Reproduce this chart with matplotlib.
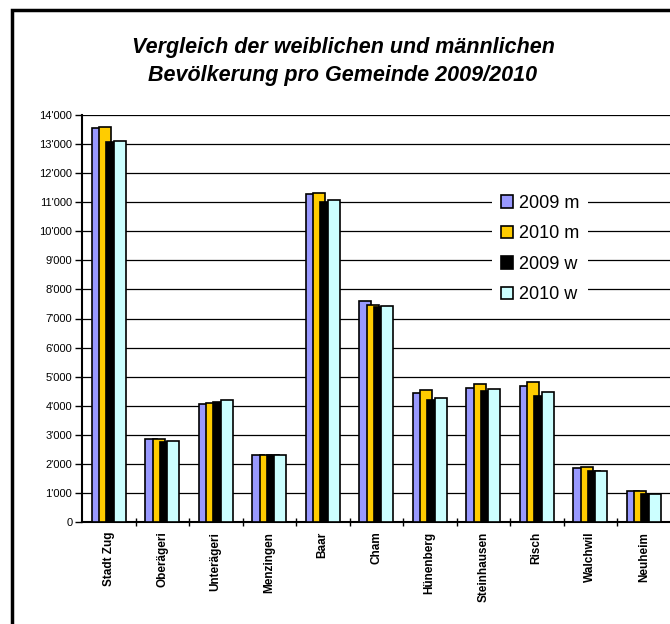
import numpy as np
import matplotlib.pyplot as plt
from matplotlib.patches import Rectangle
from matplotlib.ticker import FuncFormatter, MultipleLocator

plt.rcParams['font.family'] = ['Liberation Sans', 'DejaVu Sans']

# ==================== Data ====================
gemeinden = ['Stadt Zug', 'Oberägeri', 'Unterägeri', 'Menzingen', 'Baar', 'Cham',
             'Hünenberg', 'Steinhausen', 'Risch', 'Walchwil', 'Neuheim']
m_2009 = [13540, 2840, 4060, 2290, 11270, 7610, 4430, 4620, 4680, 1860, 1070]
m_2010 = [13600, 2860, 4090, 2320, 11330, 7460, 4550, 4740, 4830, 1890, 1070]
w_2009 = [13080, 2760, 4130, 2310, 11020, 7390, 4190, 4510, 4330, 1740, 950]
w_2010 = [13110, 2780, 4190, 2310, 11090, 7430, 4270, 4590, 4460, 1740, 950]

series = [('2009 m', m_2009, '#9999ff'),
          ('2010 m', m_2010, '#ffcc00'),
          ('2009 w', w_2009, '#000000'),
          ('2010 w', w_2010, '#ccffff')]

# ==================== Figure ====================
fig = plt.figure(figsize=(6.7, 6.24), dpi=100)

# outer chart border (cut off on the right and bottom)
fig.patches.append(Rectangle((12 / 670, -0.1), 1.2, 1.1 - 10 / 624,
                             transform=fig.transFigure, fill=False,
                             edgecolor='black', linewidth=2.5))

ax = fig.add_axes([82 / 670, 1 - 522 / 624, 588.5 / 670, 407 / 624])

x = np.arange(len(gemeinden))
width = 0.224
step = 0.137
for i, (label, vals, color) in enumerate(series):
    ax.bar(x + (i - 1.5) * step, vals, width=width, color=color,
           edgecolor='black', linewidth=1.2, label=label, zorder=3 + i)

ax.set_xlim(-0.5, len(gemeinden) - 0.5)
ax.set_ylim(0, 14000)
ax.yaxis.set_major_locator(MultipleLocator(1000))
ax.yaxis.set_major_formatter(FuncFormatter(lambda v, p: f'{int(v):,}'.replace(',', "'")))
ax.grid(axis='y', color='black', linewidth=0.9, zorder=0)

ax.set_xticks(x)
ax.set_xticklabels(gemeinden, rotation=90, fontsize=8.5, fontweight='bold', va='top')
ax.set_xticks(np.arange(len(gemeinden)) + 0.5, minor=True)
ax.tick_params(axis='x', which='major', length=0, pad=7)
ax.tick_params(axis='x', which='minor', direction='inout', length=6, width=1)
ax.tick_params(axis='y', direction='out', length=5, width=1, labelsize=8, pad=2)

for s in ['top', 'right']:
    ax.spines[s].set_visible(False)
for s in ['left', 'bottom']:
    ax.spines[s].set_linewidth(1.5)

fig.text(343 / 670, 1 - 47 / 624, 'Vergleich der weiblichen und männlichen',
         ha='center', va='center', fontsize=15.5, fontweight='bold', style='italic')
fig.text(343 / 670, 1 - 75 / 624, 'Bevölkerung pro Gemeinde 2009/2010',
         ha='center', va='center', fontsize=15.5, fontweight='bold', style='italic')

leg = fig.legend(loc='center', bbox_to_anchor=(540 / 670, 1 - 249 / 624),
                 fontsize=13, frameon=True, fancybox=False, edgecolor='none',
                 facecolor='white', framealpha=1, handlelength=0.7, handleheight=0.7,
                 handletextpad=0.3, labelspacing=0.75, borderpad=0.5)
leg.set_zorder(10)

fig.savefig('out.png', dpi=100)
